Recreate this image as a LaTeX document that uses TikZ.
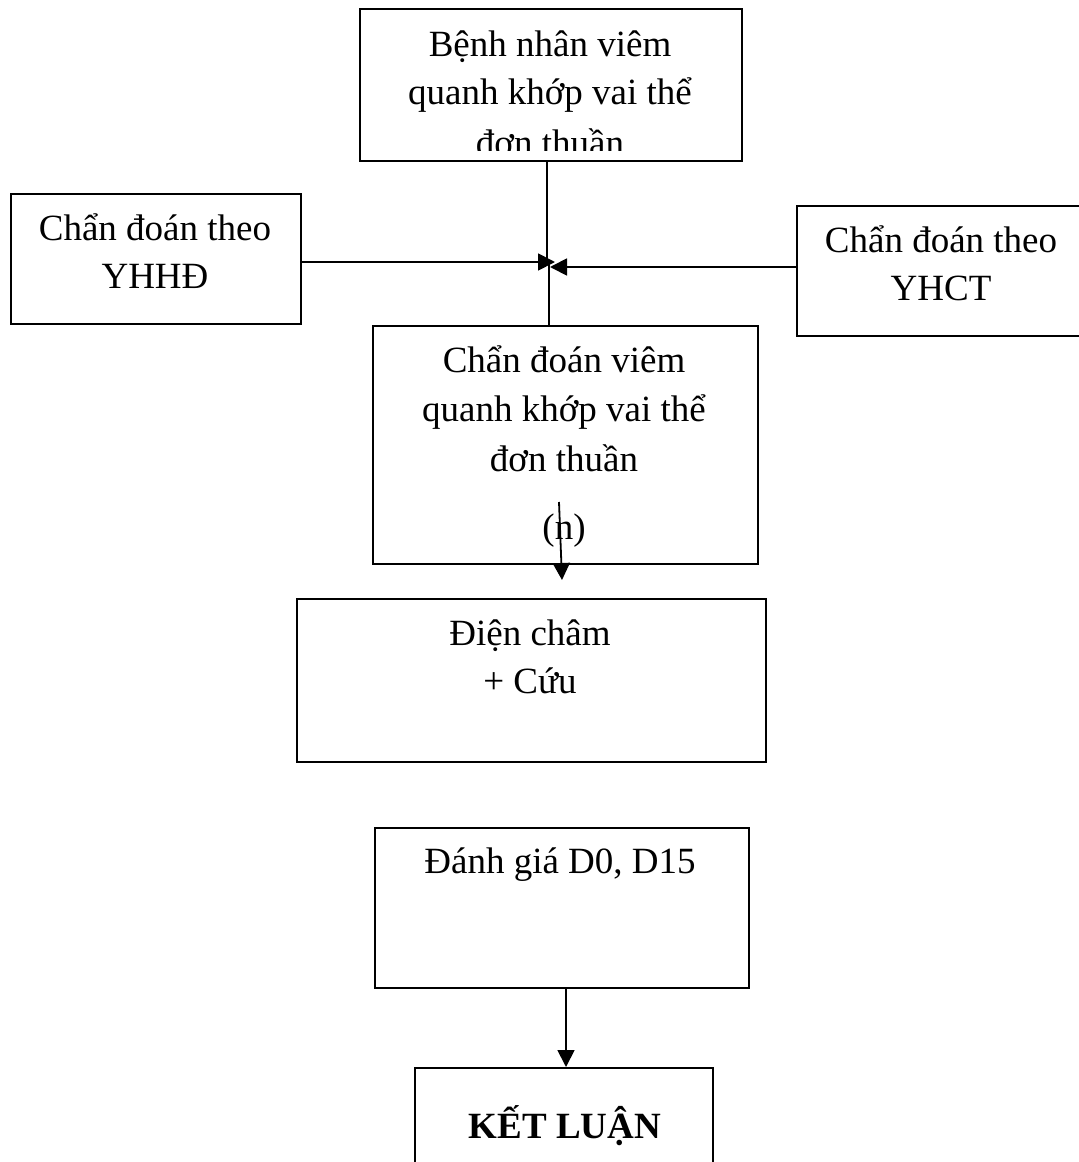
\documentclass[tikz,border=0pt]{standalone}
\usepackage{fontspec}
\setmainfont{Liberation Serif}
\usetikzlibrary{arrows.meta}
\begin{document}
\begin{tikzpicture}[x=1pt,y=-1pt,
  box/.style={draw, line width=2pt, inner sep=0pt, anchor=north west},
  ln/.style={font=\fontsize{37}{48}\selectfont, anchor=base, inner sep=0pt},
  conn/.style={line width=1.8pt},
  arr/.style={conn, -{Triangle[length=17pt,width=17pt]}}]
\useasboundingbox (0,0) rectangle (1079,1162);
% boxes
\node[box, minimum width=382pt, minimum height=152pt] (b1) at (359,8) {};
\node[box, minimum width=290pt, minimum height=130pt] (b2) at (10,193) {};
\node[box, minimum width=300pt, minimum height=130pt] (b3) at (796,205) {};
\node[box, minimum width=385pt, minimum height=238pt] (b4) at (372,325) {};
\node[box, minimum width=469pt, minimum height=163pt] (b5) at (296,598) {};
\node[box, minimum width=374pt, minimum height=160pt] (b6) at (374,827) {};
\node[box, minimum width=298pt, minimum height=130pt] (b7) at (414,1067) {};
% texts
\begin{scope}
\clip (359,8) rectangle (741,150);
\node[ln] (t1a) at (550,56) {Bệnh nhân viêm};
\node[ln] (t1b) at (550,104) {quanh khớp vai thể};
\node[ln] (t1c) at (550,155) {đơn thuần};
\end{scope}
\node[ln] (t2a) at (155,240) {Chẩn đoán theo};
\node[ln] (t2b) at (155,288) {YHHĐ};
\node[ln] (t3a) at (941,252) {Chẩn đoán theo};
\node[ln] (t3b) at (941,300) {YHCT};
\node[ln] (t4a) at (564,372) {Chẩn đoán viêm};
\node[ln] (t4b) at (564,421) {quanh khớp vai thể};
\node[ln] (t4c) at (564,471) {đơn thuần};
\node[ln] (t4d) at (564,539) {(n)};
\node[ln] (t5a) at (530,645) {Điện châm};
\node[ln] (t5b) at (530,693) {+ Cứu};
\node[ln] (t6a) at (560,873) {Đánh giá D0, D15};
\node[ln, font=\fontsize{37}{48}\selectfont\bfseries] (t7a) at (565,1138) {KẾT LUẬN};
% connectors
\coordinate (J1) at (547,263);
\coordinate (J2) at (549,263);
\coordinate (TL) at (555,262);
\coordinate (TR) at (550,267);
\coordinate (N1) at (559,502);
\coordinate (N2) at (562,580);
\coordinate (K) at (566,987);
\draw[conn] (b1.south -| J1) -- (J1);
\draw[conn] (J2) -- (b4.north -| J2);
\draw[arr] (b2.east |- TL) -- (TL);
\draw[arr] (b3.west |- TR) -- (TR);
\draw[arr] (N1) -- (N2);
\draw[arr] (b6.south -| K) -- (b7.north -| K);
\end{tikzpicture}
\end{document}
